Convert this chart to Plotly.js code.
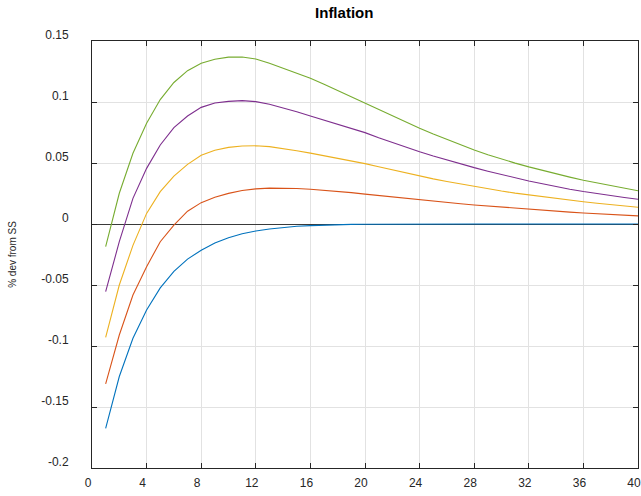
<!DOCTYPE html>
<html>
<head>
<meta charset="utf-8">
<script src="https://cdn.plot.ly/plotly-3.0.1.min.js"></script>
<style>html,body{margin:0;padding:0;background:#fff;}#chart{width:641px;height:496px;}</style>
</head>
<body>
<div id="chart"></div>
<script>
const periods = [1,2,3,4,5,6,7,8,9,10,11,12,13,14,15,16,17,18,19,20,21,22,23,24,25,26,27,28,29,30,31,32,33,34,35,36,37,38,39,40];

const blueSeries = [-0.1675,-0.125,-0.0937,-0.0705,-0.0524,-0.0388,-0.0288,-0.0215,-0.0155,-0.0112,
  -0.008,-0.0057,-0.0041,-0.0028,-0.0019,-0.0013,-0.0008,-0.0005,-0.0003,-0.0002,
  -0.0001,-0.0001,-0.00005,-0.00003,-0.00002,-0.00001,0,0,0,0,0,0,0,0,0,0,0,0,0,0];

const orangeSeries = [-0.1311,-0.091,-0.0582,-0.035,-0.0145,-0.001,0.0105,0.0175,0.0219,0.0251,
  0.0274,0.0288,0.0294,0.0295,0.0291,0.0285,0.0277,0.0268,0.0257,0.0245,
  0.0233,0.0221,0.0209,0.0197,0.0186,0.0176,0.0166,0.0156,0.0147,0.0137,
  0.0128,0.012,0.0112,0.0104,0.0097,0.009,0.0084,0.0078,0.0072,0.0067];

const yellowSeries = [-0.0929,-0.05,-0.0175,0.0087,0.0265,0.0393,0.0489,0.0563,0.0605,0.0628,
  0.0639,0.0641,0.0634,0.0619,0.0601,0.0581,0.056,0.0539,0.0517,0.0495,
  0.0469,0.0443,0.0418,0.0393,0.037,0.0348,0.0327,0.0306,0.0288,0.027,
  0.0253,0.0238,0.0223,0.0209,0.0195,0.0182,0.017,0.0158,0.0147,0.0137];

const purpleSeries = [-0.0555,-0.0145,0.021,0.0456,0.0648,0.079,0.0885,0.0956,0.0992,0.1005,
  0.1011,0.1003,0.0982,0.0953,0.092,0.0886,0.0851,0.0816,0.0782,0.0749,
  0.0707,0.0668,0.063,0.0593,0.0558,0.0524,0.0492,0.0462,0.0433,0.0405,
  0.0378,0.0352,0.033,0.0306,0.0285,0.0266,0.0248,0.0232,0.0217,0.0203];

const greenSeries = [-0.0186,0.0252,0.058,0.0825,0.102,0.116,0.1257,0.1317,0.135,0.1368,
  0.1369,0.1352,0.1317,0.1276,0.1235,0.1194,0.1145,0.1093,0.1043,0.099,
  0.0936,0.0884,0.0833,0.0784,0.0737,0.0692,0.0649,0.0607,0.0568,0.0532,
  0.0499,0.0468,0.0438,0.041,0.0384,0.0358,0.0335,0.0314,0.0294,0.0272];

const seriesList = [blueSeries, orangeSeries, yellowSeries, purpleSeries, greenSeries];
const seriesColors = ['#0072BD','#D95319','#EDB120','#7E2F8E','#77AC30'];

const xTickVals = [0,4,8,12,16,20,24,28,32,36,40];
const yTickVals = [-0.2,-0.15,-0.1,-0.05,0,0.05,0.1,0.15];
const yTickText = ['-0.2','-0.15','-0.1','-0.05','0','0.05','0.1','0.15'];

const traces = seriesList.map((s, i) => ({
  x: periods, y: s, type: 'scatter', mode: 'lines',
  line: {color: seriesColors[i], width: 1.1},
  showlegend: false, hoverinfo: 'skip'
}));

const axisColor = '#262626';
const layout = {
  width: 641, height: 496,
  margin: {l: 92, r: 3, t: 41, b: 28, pad: 0},
  paper_bgcolor: '#ffffff', plot_bgcolor: '#ffffff',
  font: {family: 'Liberation Sans, Arial, sans-serif', color: axisColor},
  title: {text: '<b>Inflation</b>', x: 0.537, xref: 'container', xanchor: 'center',
          y: 0.974, yref: 'container', yanchor: 'middle',
          font: {size: 15, color: '#000000', family: 'Liberation Sans, Arial, sans-serif'}},
  xaxis: {
    range: [0, 40], tickvals: xTickVals, ticktext: xTickVals.map(String),
    ticks: 'inside', ticklen: 5, tickcolor: axisColor, tickwidth: 1,
    showline: true, linecolor: axisColor, linewidth: 1, mirror: 'ticks',
    showgrid: true, gridcolor: '#e2e2e2', gridwidth: 1, zeroline: false,
    tickfont: {size: 12, color: axisColor}, ticklabelshift: -4, ticklabelstandoff: 4
  },
  yaxis: {
    range: [-0.2, 0.15], tickvals: yTickVals, ticktext: yTickText,
    ticks: 'inside', ticklen: 5, tickcolor: axisColor, tickwidth: 1,
    showline: true, linecolor: axisColor, linewidth: 1, mirror: 'ticks',
    showgrid: true, gridcolor: '#e2e2e2', gridwidth: 1,
    zeroline: true, zerolinecolor: '#3a3a3a', zerolinewidth: 1,
    tickfont: {size: 12, color: axisColor}, ticklabelshift: -6, ticklabelstandoff: 20,
    title: {text: '% dev from SS', font: {size: 10, color: axisColor}, standoff: 22}
  }
};

Plotly.newPlot('chart', traces, layout, {displayModeBar: false, staticPlot: true});
</script>
</body>
</html>
